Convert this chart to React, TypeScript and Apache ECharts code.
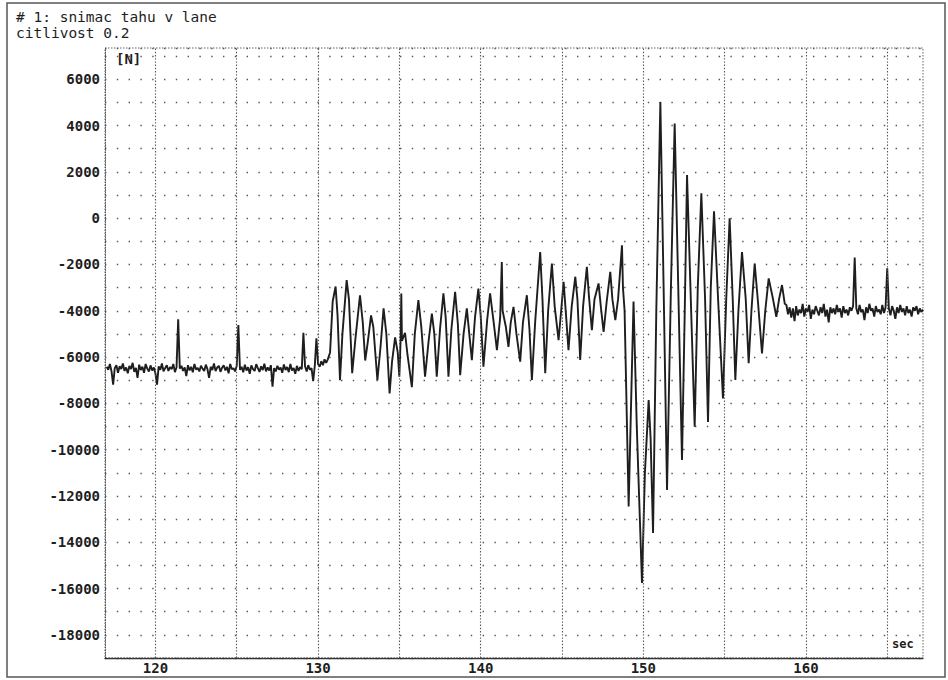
import React, { useEffect, useRef } from "react";
import * as echarts from "echarts";

// ---- texts ----
const titleLines = ["# 1: snimac tahu v lane", "citlivost 0.2"];
const yUnit = "[N]";
const xUnit = "sec";

// ---- axes ----
const xMin = 116.9;
const xMax = 167.2;
const yMin = -19000;
const yMax = 7350;
const xTickLabels = [120, 130, 140, 150, 160];
const xGridLines = [120, 125, 130, 135, 140, 145, 150, 155, 160, 165];

// ---- signal ----
const sampleDt = 0.1; // seconds between samples in the quiet stretches

// quiet stretch before the oscillation, starting at 117.0 s
const preStart = 117.0;
const preValues = [
  -6420, -6550, -6300, -6610, -7190, -6480, -6350, -6680, -6400, -6520,
  -6280, -6600, -6450, -6700, -6380, -6520, -6250, -6640, -6470, -6900,
  -6330, -6560, -6420, -6680, -6300, -6500, -6620, -6360, -6580, -6450,
  -6700, -7190, -6400, -6550, -6280, -6620, -6480, -6350, -6600, -6430,
  -6520, -6300, -6650, -6440, -4370, -6500, -6380, -6600, -6450, -6820,
  -6350, -6580, -6420, -6660, -6300, -6540, -6470, -6620, -6380, -6500,
  -6600, -6330, -6520, -6900, -6420, -6560, -6280, -6610, -6450, -6380,
  -6640, -6460, -6350, -6580, -6420, -6700, -6300, -6530, -6480, -6620,
  -6380, -4620, -6550, -6420, -6660, -6330, -6580, -6440, -6720, -6360,
  -6520, -6600, -6310, -6480, -6640, -6400, -6560, -6290, -6620, -6450,
  -6580, -6350, -7280, -6480, -6620, -6380, -6540, -6450, -6680, -6320,
  -6560, -6430, -6650, -6300, -6580, -6470, -6720, -6380, -6600, -6440,
  -6520, -4950, -6400, -6620, -6350, -6550, -6480, -7040, -6380, -5190,
  -6300, -6420, -6180, -6350, -6100, -6250,
];

// oscillation: [time s, force N] turning points
const oscPoints: [number, number][] = [
  [130.6, -6100], [130.74, -5800], [130.9, -3600], [131.08, -2950], [131.2, -4200],
  [131.35, -7000], [131.5, -5000], [131.76, -2680], [131.9, -3500], [132.1, -6700],
  [132.3, -5200], [132.58, -3330], [132.75, -4500], [132.9, -6150], [133.05, -5400],
  [133.26, -4200], [133.4, -4700], [133.65, -7000], [133.85, -5500], [134.03, -3900],
  [134.2, -5000], [134.4, -7570], [134.55, -6200], [134.74, -5150], [134.9, -5800],
  [135.0, -6850], [135.08, -5200], [135.12, -3250], [135.16, -5300], [135.35, -4950],
  [135.5, -5900], [135.77, -7300], [135.95, -5000], [136.17, -3540], [136.35, -4700],
  [136.58, -6850], [136.8, -5300], [137.0, -4120], [137.15, -5000], [137.3, -6850],
  [137.5, -4800], [137.71, -3250], [137.85, -4300], [138.02, -6850], [138.2, -4800],
  [138.43, -3180], [138.6, -4600], [138.74, -6780], [138.95, -5000], [139.15, -3900],
  [139.3, -5000], [139.46, -6130], [139.65, -4300], [139.86, -3040], [140.0, -4200],
  [140.17, -6420], [140.4, -4400], [140.58, -3250], [140.8, -4500], [141.0, -5700],
  [141.2, -4300], [141.3, -1890], [141.35, -4000], [141.55, -4700], [141.71, -5560],
  [141.85, -4500], [142.02, -3830], [142.2, -5000], [142.43, -6200], [142.6, -4500],
  [142.84, -3330], [143.0, -4800], [143.15, -6990], [143.35, -4500], [143.66, -1460],
  [143.8, -3500], [143.97, -6700], [144.15, -4000], [144.38, -1960], [144.55, -3800],
  [144.79, -5270], [144.95, -4000], [145.1, -2750], [145.25, -4200], [145.4, -5700],
  [145.6, -3800], [145.82, -2530], [145.95, -3500], [146.12, -6130], [146.3, -3800],
  [146.53, -2100], [146.65, -3300], [146.84, -4840], [147.0, -3500], [147.25, -2820],
  [147.4, -3900], [147.56, -4910], [147.75, -3600], [147.97, -2320], [148.1, -3500],
  [148.28, -4400], [148.45, -3500], [148.69, -1170], [148.75, -3000], [148.85, -4000],
  [149.1, -12460], [149.25, -8000], [149.4, -3600], [149.6, -9000], [149.92, -15760],
  [150.1, -11000], [150.33, -7860], [150.45, -9500], [150.6, -13600], [150.8, -4000],
  [151.05, 5020], [151.25, -3000], [151.46, -11740], [151.7, -3000], [151.93, 4090],
  [152.15, -3000], [152.38, -10450], [152.55, -4000], [152.69, 1860], [152.9, -3000],
  [153.16, -9010], [153.35, -3000], [153.57, 1070], [153.8, -3500], [153.98, -8800],
  [154.15, -3000], [154.35, 300], [154.6, -3500], [154.9, -7790], [155.1, -3500],
  [155.31, -10], [155.5, -3500], [155.66, -6990], [155.85, -4000], [156.07, -1460],
  [156.3, -3500], [156.48, -6270], [156.65, -4000], [156.85, -1960], [157.05, -3600],
  [157.3, -5840], [157.5, -4000], [157.71, -2600], [157.95, -3400], [158.18, -4260],
  [158.35, -3500], [158.53, -2890], [158.7, -3700],
];

// quiet stretch after the oscillation, starting at 158.8 s
const postStart = 158.8;
const postValues = [
  -3750, -4150, -3850, -4300, -3900, -4450, -3800, -4200, -3950, -4100,
  -3700, -4250, -3900, -4050, -3750, -4350, -3950, -4150, -3800, -4000,
  -4200, -3850, -4100, -3700, -4250, -3950, -4500, -3850, -4100, -3900,
  -4150, -3750, -4050, -3900, -4300, -3800, -4100, -3950, -4200, -3850,
  -4000, -3800, -1700, -3900, -4150, -3750, -4050, -3950, -4400, -3850,
  -4100, -3700, -4000, -3900, -4250, -3800, -4050, -3950, -4150, -3750,
  -4100, -3850, -2170, -3900, -4200, -3800, -4000, -4350, -3850, -4100,
  -3750, -4050, -3900, -4200, -3800, -4100, -3950, -4250, -3850, -4000,
  -3800, -4150, -3900, -4050, -3950,
];

function buildSeries(): [number, number][] {
  const out: [number, number][] = [];
  preValues.forEach((v, i) => out.push([+(preStart + i * sampleDt).toFixed(2), v]));
  oscPoints.forEach((p) => out.push([p[0], p[1]]));
  postValues.forEach((v, i) => out.push([+(postStart + i * sampleDt).toFixed(2), v]));
  return out;
}

const MONO = "DejaVu Sans Mono, Liberation Mono, monospace";
const INK = "#1e1e1e";
const DOT = "#555555";

export default function App() {
  const ref = useRef<HTMLDivElement>(null);
  useEffect(() => {
    if (!ref.current) return;
    const chart = echarts.init(ref.current, undefined, { renderer: "svg" });
    const option: any = {
      animation: false,
      backgroundColor: "#ffffff",
      grid: {
        left: 105,
        top: 48,
        right: 25,
        bottom: 22,
        show: true,
        borderColor: "#666",
        borderWidth: 1,
        borderType: [1.5, 1.5],
      },
      xAxis: {
        type: "value",
        min: xMin,
        max: xMax,
        axisLine: { show: true, onZero: false, lineStyle: { color: "#333", width: 1.4, type: [2, 1] } },
        axisTick: { show: false },
        splitLine: { show: false },
        axisLabel: {
          customValues: xTickLabels,
          color: INK,
          fontFamily: MONO,
          fontSize: 14,
          fontWeight: "bold",
          margin: 3,
        },
      },
      yAxis: {
        type: "value",
        min: yMin,
        max: yMax,
        interval: 1000,
        axisLine: { show: true, onZero: false, lineStyle: { color: "#555", width: 1, type: [1, 1.5] } },
        axisTick: { show: false },
        splitLine: { show: true, lineStyle: { color: DOT, width: 1.4, type: [1.4, 10.4] } },
        axisLabel: {
          color: INK,
          fontFamily: MONO,
          fontSize: 14,
          fontWeight: "bold",
          margin: 5,
          formatter: (v: number) => (v % 2000 === 0 ? String(v) : ""),
        },
      },
      series: [
        {
          type: "line",
          data: [],
          z: 1,
          silent: true,
          markLine: {
            silent: true,
            symbol: ["none", "none"],
            label: { show: false },
            lineStyle: { color: DOT, width: 1.1, type: [1.4, 1.8] },
            data: xGridLines.map((x) => ({ xAxis: x })),
          },
        },
        {
          type: "line",
          data: buildSeries(),
          z: 3,
          showSymbol: false,
          symbol: "none",
          lineStyle: { color: INK, width: 1.9 },
        },
      ],
      graphic: [
        {
          type: "rect",
          shape: { x: 7, y: 3, width: 938, height: 674 },
          style: { fill: "none", stroke: "#555", lineWidth: 1.5 },
          silent: true,
        },
        {
          type: "text",
          left: 16,
          top: 9,
          style: { text: titleLines[0], fill: INK, font: `14.5px ${MONO}` },
        },
        {
          type: "text",
          left: 16,
          top: 25,
          style: { text: titleLines[1], fill: INK, font: `14.5px ${MONO}` },
        },
        {
          type: "text",
          left: 116,
          top: 52,
          style: { text: yUnit, fill: INK, font: `bold 14px ${MONO}` },
        },
        {
          type: "text",
          left: 892,
          top: 638,
          style: { text: xUnit, fill: INK, font: `bold 12px ${MONO}` },
        },
      ],
    };
    chart.setOption(option);
    return () => chart.dispose();
  }, []);
  return (
    <div
      ref={ref}
      style={{ position: "fixed", left: 0, top: 0, width: 948, height: 680, background: "#fff" }}
    />
  );
}
